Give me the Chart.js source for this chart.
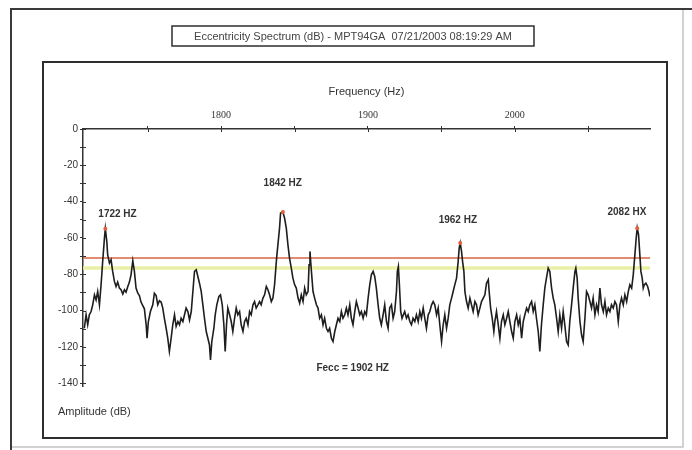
<!DOCTYPE html>
<html>
<head>
<meta charset="utf-8">
<script src="https://cdn.jsdelivr.net/npm/chart.js@4.4.1/dist/chart.umd.min.js"></script>
<style>
  body { margin: 0; background: #fff; }
  canvas { display: block; }
</style>
</head>
<body>
<canvas id="spec" width="692" height="450"></canvas>
<script>
// spectrum (Hz, dB)
var freq = [
  1706.9,1708.1,1709.2,1710.3,1711.5,1712.6,1713.8,1714.9,1716.0,1717.2,1718.3,1719.4,1720.6,1721.2,1722.2,1722.8,
  1724.0,1725.1,1726.2,1727.4,1728.5,1729.6,1730.8,1731.9,1733.1,1734.2,1735.3,1736.5,1737.6,1738.7,1739.9,1741.0,
  1742.1,1743.3,1744.4,1745.5,1746.7,1747.8,1749.0,1749.6,1750.5,1751.9,1753.5,1754.6,1755.8,1756.9,1758.0,1759.2,
  1760.3,1761.4,1762.6,1763.7,1764.8,1766.0,1767.1,
  1768.3,1769.4,1770.6,1771.7,1772.8,1774.0,1775.1,1776.2,1777.4,1778.5,1779.7,1780.8,1781.9,1783.1,1784.2,1785.3,
  1786.5,1787.6,1788.7,1789.9,1791.0,1792.1,1792.8,1793.7,1795.1,1796.0,1797.1,1798.5,1799.6,1800.8,1801.9,1802.8,
  1803.7,1804.6,1805.8,1806.9,1808.0,1809.2,1810.3,1811.4,1812.6,1813.7,1814.9,1816.0,1817.1,1818.3,1819.4,1820.5,
  1821.7,1822.8,1823.9,1825.1,1826.2,1827.3,1828.5,1829.6,1830.8,1831.9,1833.0,1834.2,1835.3,1836.4,1837.1,1837.8,
  1838.7,1839.8,1840.5,1842.1,1843.2,1844.4,1845.5,1846.6,1847.8,1848.9,
  1850.1,1851.2,1852.4,1853.5,1854.6,1855.8,1856.9,1858.0,1859.2,1859.9,1860.5,1861.5,1862.6,1863.7,1864.9,1866.0,
  1867.1,1868.3,1869.4,1870.5,1871.7,1872.8,1873.9,1875.1,1876.2,1877.4,1878.5,1879.6,1880.8,1881.9,1883.0,1884.2,
  1885.3,1886.4,1887.6,1888.7,1889.8,1891.0,1892.1,1893.3,1894.4,1895.5,1896.7,1897.8,1898.9,1900.1,1901.2,1902.3,
  1903.5,1904.6,1905.7,1906.9,1908.0,1909.1,1910.3,1911.4,1912.6,1913.7,1914.8,1916.0,1917.1,1918.2,1919.4,1920.0,
  1920.7,1921.4,1922.3,1923.2,1924.1,1925.0,1926.2,1927.3,1928.5,1929.6,1930.7,
  1931.9,1933.0,1934.2,1935.3,1936.4,1937.6,1938.7,1939.8,1941.0,1942.1,1943.3,1944.4,1945.5,1946.7,1947.8,1948.9,
  1950.1,1951.2,1952.3,1953.5,1954.6,1955.7,1956.9,1958.0,1959.1,1960.3,1961.4,1962.1,1962.8,1963.7,1964.4,1965.3,
  1966.0,1967.1,1968.2,1969.4,1970.5,1971.6,1972.8,1973.9,1975.0,1976.2,1977.3,1978.5,1979.6,1980.7,1981.9,1982.5,
  1983.5,1984.6,1985.7,1986.4,1987.5,1988.7,1989.8,1990.9,1992.1,1993.2,1994.4,1995.5,1996.6,1997.8,1998.9,2000.0,
  2001.2,2002.3,2003.4,2004.6,2005.7,2006.8,2008.0,2009.1,2010.2,2011.4,2012.5,
  2013.6,2014.7,2015.9,2017.0,2018.1,2019.3,2020.4,2021.5,2022.7,2023.8,2025.0,2026.1,2027.2,2028.4,2029.5,2030.6,
  2031.8,2032.9,2034.0,2035.2,2036.3,2037.4,2038.6,2039.7,2040.9,2041.5,2042.4,2043.1,2044.3,2045.4,2046.5,2047.7,
  2048.8,2049.9,2051.1,2052.2,2053.3,2054.5,2055.6,2056.7,2057.9,2059.0,2060.2,2061.3,2062.4,2063.6,2064.7,2065.8,
  2067.0,2068.1,2069.2,2070.4,2071.5,2072.6,2073.8,2074.9,2076.1,2077.2,2078.3,2079.5,2080.6,2081.7,2082.6,2083.3,
  2084.2,2085.1,2085.8,2086.7,2087.4,2088.1,2089.2,2090.4,2091.3,2091.9
];
var amp = [
  -109.7,-102.3,-107.8,-102.3,-100.5,-96.8,-91.3,-94.1,-89.5,-96.8,-85.8,-72.9,-60.1,-54.9,-61.9,-69.3,
  -73.8,-72.0,-78.4,-83.9,-86.7,-84.3,-87.6,-88.5,-90.9,-88.5,-89.8,-86.7,-84.3,-80.3,-72.6,-78.4,
  -87.6,-90.4,-91.7,-95.3,-97.2,-99.0,-107.8,-115.2,-106.0,-100.5,-96.8,-90.4,-91.7,-96.8,-94.6,-95.3,
  -98.6,-104.2,-109.7,-115.2,-122.5,-115.2,-107.8,
  -102.3,-108.7,-106.0,-107.8,-104.2,-106.0,-102.3,-98.6,-100.5,-105.1,-100.5,-89.5,-78.4,-77.5,-81.2,-84.9,
  -89.5,-96.8,-104.2,-111.5,-115.2,-118.9,-127.1,-117.0,-109.7,-102.3,-96.8,-92.2,-91.3,-96.8,-107.8,-122.5,
  -107.8,-98.6,-102.3,-106.0,-111.5,-104.2,-98.6,-102.3,-100.5,-107.8,-111.5,-106.0,-104.2,-107.8,-100.5,-102.3,
  -96.8,-95.0,-98.6,-96.8,-95.0,-96.8,-93.1,-91.3,-86.7,-88.5,-91.3,-95.0,-93.1,-85.8,-78.4,-71.1,
  -63.7,-54.6,-46.3,-45.7,-49.0,-54.6,-63.7,-71.1,-76.6,-82.1,
  -85.8,-87.6,-93.1,-95.9,-91.3,-95.0,-87.6,-91.3,-89.5,-74.8,-67.4,-78.4,-89.5,-93.1,-96.8,-98.6,
  -104.2,-102.3,-107.8,-104.2,-109.7,-111.5,-109.7,-115.2,-117.0,-111.5,-107.8,-104.2,-106.0,-100.5,-104.2,-102.3,
  -98.6,-102.3,-96.8,-104.2,-107.8,-100.5,-95.0,-98.6,-102.3,-100.5,-104.2,-100.5,-102.3,-93.1,-85.8,-80.3,
  -78.4,-81.2,-87.6,-96.8,-104.2,-107.8,-102.3,-96.8,-106.0,-109.7,-98.6,-96.8,-104.2,-100.5,-89.5,-78.4,
  -75.7,-85.8,-100.5,-104.2,-102.3,-100.5,-104.2,-102.3,-106.0,-107.8,-104.2,
  -106.0,-102.3,-106.0,-100.5,-104.2,-98.6,-104.2,-109.7,-102.3,-100.5,-96.8,-95.0,-96.8,-102.3,-98.6,-107.8,
  -117.0,-107.8,-102.3,-109.7,-104.2,-96.8,-93.1,-89.5,-85.8,-82.1,-72.9,-65.6,-62.8,-67.4,-72.9,-78.4,
  -89.5,-95.0,-98.6,-93.1,-96.8,-100.5,-95.0,-96.8,-102.3,-98.6,-95.0,-93.1,-91.3,-84.9,-83.0,-89.5,
  -98.6,-104.2,-111.5,-106.0,-100.5,-107.8,-115.2,-106.0,-102.3,-107.8,-104.2,-100.5,-106.0,-111.5,-115.2,-106.0,
  -102.3,-107.8,-104.2,-115.2,-106.0,-102.3,-98.6,-100.5,-96.8,-95.0,-100.5,
  -96.8,-104.2,-111.5,-122.5,-107.8,-96.8,-87.6,-82.1,-76.6,-78.4,-87.6,-93.1,-96.8,-104.2,-111.5,-102.3,
  -109.7,-100.5,-107.8,-117.0,-118.9,-106.0,-96.8,-87.6,-78.4,-76.6,-82.1,-93.1,-106.0,-113.3,-117.0,-104.2,
  -89.5,-91.3,-95.0,-98.6,-93.1,-102.3,-96.8,-100.5,-87.6,-96.8,-100.5,-95.0,-102.3,-98.6,-100.5,-96.8,
  -98.6,-95.0,-96.8,-106.0,-96.8,-93.1,-96.8,-91.3,-95.0,-89.5,-85.8,-87.6,-80.3,-69.3,-60.1,-54.6,
  -58.2,-69.3,-78.4,-82.1,-87.6,-85.8,-84.9,-86.7,-89.5,-92.2
];

// marked peaks
var peakFreq = [1721.2, 1842.1, 1962.8, 2083.3];
var peakAmp = [-54.9, -45.7, -62.8, -54.6];
var peakText = ['1722 HZ', '1842 HZ', '1962 HZ', '2082 HX'];
var peakTextFreq = [1729.5, 1842, 1961.2, 2076.3];
var peakTextAmp = [-47.2, -29.6, -50, -46.1];

// alarm levels
var alertLevel = -71;
var warnLevel = -76.5;

var freqTicks = [1750, 1800, 1850, 1900, 1950, 2000, 2050];
var ampTicks = [0, -10, -20, -30, -40, -50, -60, -70, -80, -90, -100, -110, -120, -130, -140];
var freqMin = 1706, freqMax = 2092;
var ampMin = -141.5, ampMax = 0;

var titleText = 'Eccentricity Spectrum (dB) - MPT94GA  07/21/2003 08:19:29 AM';
var xTitle = 'Frequency (Hz)';
var yTitle = 'Amplitude (dB)';
var feccText = 'Fecc = 1902 HZ';

var spectrum = freq.map(function (f, i) { return {x: f, y: amp[i]}; });
var peaks = peakFreq.map(function (f, i) { return {x: f, y: peakAmp[i]}; });

var deco = {
  id: 'deco',
  beforeDraw: function (chart) {
    var c = chart.ctx;
    c.save();
    c.fillStyle = '#fff';
    c.fillRect(0, 0, chart.width, chart.height);
    // outer frame
    c.strokeStyle = '#c4c4c4';
    c.lineWidth = 1.5;
    c.beginPath();
    c.moveTo(683, 9); c.lineTo(683, 447); c.lineTo(11, 447);
    c.stroke();
    c.strokeStyle = '#3a3a3a';
    c.lineWidth = 2;
    c.beginPath();
    c.moveTo(11, 450); c.lineTo(11, 9); c.lineTo(692, 9);
    c.stroke();
    // inner frame
    c.strokeStyle = '#2e2e2e';
    c.lineWidth = 2;
    c.strokeRect(43, 62, 624, 376);
    // title box
    c.lineWidth = 1.5;
    c.strokeRect(172, 26, 362, 20);
    c.fillStyle = '#444';
    c.font = '11px "Liberation Sans Narrow", "Liberation Sans", Arial, sans-serif';
    c.textAlign = 'center';
    c.textBaseline = 'middle';
    c.fillText(titleText, 353, 36.5);
    c.restore();
  },
  afterDraw: function (chart) {
    var c = chart.ctx;
    var xs = chart.scales.x, ys = chart.scales.y;
    c.save();
    // inner half of the tick marks, so they cross the axes
    c.strokeStyle = '#333';
    c.lineWidth = 1;
    c.beginPath();
    xs.ticks.forEach(function (t) {
      var px = Math.round(xs.getPixelForValue(t.value)) + 0.5;
      c.moveTo(px, xs.bottom); c.lineTo(px, xs.bottom + 3);
    });
    ys.ticks.forEach(function (t) {
      var py = Math.round(ys.getPixelForValue(t.value)) + 0.5;
      c.moveTo(ys.right, py); c.lineTo(ys.right + 3, py);
    });
    c.stroke();

    c.fillStyle = '#333';
    c.textAlign = 'center';
    c.textBaseline = 'middle';
    c.font = '11px "Liberation Sans", Arial, sans-serif';
    c.fillText(xTitle, (xs.left + xs.right) / 2, 92);
    c.textAlign = 'left';
    c.fillText(yTitle, 58, 412);
    c.font = 'bold 10px "Liberation Sans", Arial, sans-serif';
    c.textAlign = 'center';
    for (var i = 0; i < peakText.length; i++) {
      c.fillText(peakText[i], xs.getPixelForValue(peakTextFreq[i]), ys.getPixelForValue(peakTextAmp[i]));
    }
    c.fillText(feccText, xs.getPixelForValue(1889.6), ys.getPixelForValue(-131.5));
    c.restore();
  }
};

new Chart(document.getElementById('spec'), {
  type: 'line',
  data: {
    datasets: [
      {
        data: spectrum,
        borderColor: '#1e1e1e',
        borderWidth: 1.6,
        pointRadius: 0,
        tension: 0,
        order: 1
      },
      {
        type: 'scatter',
        data: peaks,
        pointRadius: 2,
        pointBackgroundColor: '#e0603a',
        pointBorderWidth: 0,
        order: 0
      },
      {
        data: [{x: freqMin, y: alertLevel}, {x: freqMax, y: alertLevel}],
        borderColor: '#d9653f',
        borderWidth: 1.5,
        pointRadius: 0,
        order: 2
      },
      {
        data: [{x: freqMin, y: warnLevel}, {x: freqMax, y: warnLevel}],
        borderColor: '#e8f0a6',
        borderWidth: 3.5,
        pointRadius: 0,
        order: 3
      }
    ]
  },
  options: {
    responsive: false,
    animation: false,
    layout: { padding: { left: 43, top: 62, right: 42, bottom: 64 } },
    plugins: { legend: { display: false }, tooltip: { enabled: false } },
    scales: {
      x: {
        type: 'linear',
        position: 'top',
        min: freqMin,
        max: freqMax,
        afterFit: function (s) { s.height = 67; },
        afterBuildTicks: function (s) { s.ticks = freqTicks.map(function (v) { return {value: v}; }); },
        grid: { drawOnChartArea: false, drawTicks: true, tickLength: 3, color: '#333' },
        border: { display: true, color: '#333', width: 1.5 },
        ticks: {
          autoSkip: false,
          maxRotation: 0,
          padding: 5,
          color: '#333',
          font: { family: '"Liberation Serif", serif', size: 10 },
          callback: function (v) { return v % 100 === 0 ? String(v) : ''; }
        }
      },
      y: {
        type: 'linear',
        min: ampMin,
        max: ampMax,
        afterFit: function (s) { s.width = 40; },
        afterBuildTicks: function (s) { s.ticks = ampTicks.map(function (v) { return {value: v}; }); },
        grid: { drawOnChartArea: false, drawTicks: true, tickLength: 3, color: '#333' },
        border: { display: true, color: '#333', width: 1.5 },
        ticks: {
          autoSkip: false,
          padding: 2,
          color: '#333',
          font: { family: '"Liberation Sans", Arial, sans-serif', size: 10 },
          callback: function (v) { return v % 20 === 0 ? String(v) : ''; }
        }
      }
    }
  },
  plugins: [deco]
});
</script>
</body>
</html>
